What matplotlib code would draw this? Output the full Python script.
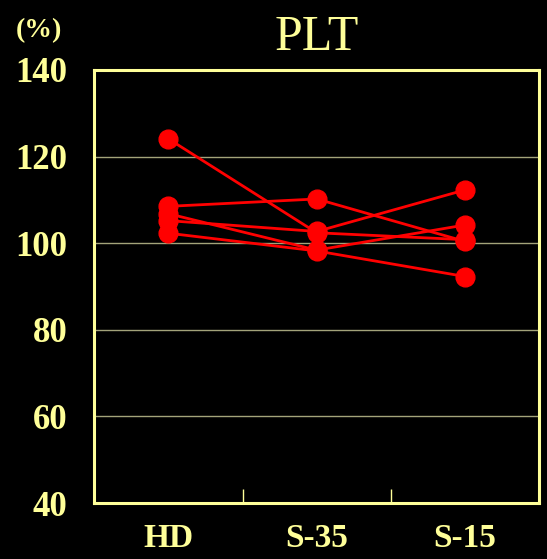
import matplotlib
matplotlib.use("Agg")
import matplotlib.pyplot as plt

# PLT (%) per subject at each condition
conditions = ["HD", "S-35", "S-15"]
subj_a = [108.5, 110.2, 100.4]
subj_b = [124.1, 102.4, 100.8]
subj_c = [105.2, 102.7, 112.3]
subj_d = [106.8, 98.4, 104.2]
subj_e = [102.3, 98.2, 92.3]
yticks = [40, 60, 80, 100, 120, 140]

FG = "#ffff99"
RED = "#ff0000"
plt.rcParams["font.family"] = ["Liberation Serif", "DejaVu Serif"]

fig = plt.figure(figsize=(5.47, 5.59), dpi=100, facecolor="black")
ax = fig.add_axes([0.172, 0.100, 0.814, 0.775], facecolor="black")

x = list(range(len(conditions)))
for s in [subj_a, subj_b, subj_c, subj_d, subj_e]:
    ax.plot(x, s, "-o", color=RED, lw=2, ms=13.5, zorder=3)

ax.set_xlim(-0.5, 2.5)
ax.set_ylim(40, 140)
ax.set_yticks(yticks)
ax.set_yticklabels([str(v) for v in yticks], fontsize=25, fontweight="bold", color=FG)
ax.set_xticks(x)
ax.set_xticklabels(conditions, fontsize=24, fontweight="bold", color=FG)
ax.set_xticks([0.5, 1.5], minor=True)
ax.tick_params(axis="x", which="major", length=0, pad=14)
ax.tick_params(axis="x", which="minor", direction="in", length=10, width=1, color=FG)
ax.tick_params(axis="y", length=0, pad=19)

for v in yticks[1:-1]:
    ax.axhline(v, color="#a3a37a", lw=1, zorder=1)
for sp in ax.spines.values():
    sp.set_color(FG)
    sp.set_linewidth(2.2)

ax.set_title("PLT", fontsize=36, color=FG, pad=14)
fig.text(0.072, 0.945, "(%)", fontsize=20, fontweight="bold", color=FG, ha="center", va="center")

fig.savefig("out.png", dpi=100, facecolor="black")
